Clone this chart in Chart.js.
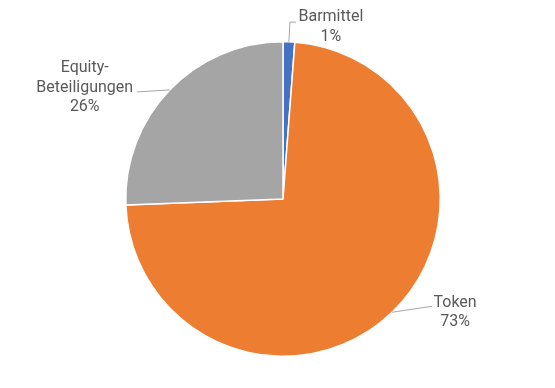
<!DOCTYPE html>
<html>
<head>
<meta charset="utf-8">
<script src="https://cdn.jsdelivr.net/npm/chart.js@4/dist/chart.umd.min.js"></script>
<style>
  html, body { margin: 0; padding: 0; background: #fff; }
  #wrap { width: 555px; height: 388px; }
</style>
</head>
<body>
<div id="wrap"><canvas id="chart"></canvas></div>
<script>
const categories = ['Barmittel', 'Token', 'Equity-Beteiligungen'];
const labelLines = [['Barmittel'], ['Token'], ['Equity-', 'Beteiligungen']];
const shares = [1.2, 73.2, 25.6];
const percentLabels = ['1%', '73%', '26%'];
const colors = ['#4472C4', '#ED7D31', '#A5A5A5'];

// where each label sits relative to the slice edge (text centre), and the leader end
const labelPlace = [
  { dx: 42, dy: -15, elbow: true },
  { dx: 63, dy: 0, lineDx: 40, lineDy: -6 },
  { dx: -85, dy: -2, lineDx: -33, lineDy: 2 }
];

const outsideLabels = {
  id: 'outsideLabels',
  afterDatasetsDraw(chart) {
    const ctx = chart.ctx;
    const arcs = chart.getDatasetMeta(0).data;
    ctx.save();
    ctx.font = '16px Roboto';
    ctx.textAlign = 'center';
    ctx.textBaseline = 'middle';
    arcs.forEach((arc, i) => {
      const mid = (arc.startAngle + arc.endAngle) / 2;
      const ex = arc.x + Math.cos(mid) * arc.outerRadius;
      const ey = arc.y + Math.sin(mid) * arc.outerRadius;
      const p = labelPlace[i];
      const lines = labelLines[i].concat([percentLabels[i]]);
      const lh = 19.5;
      const cx = ex + p.dx, cy = ey + p.dy;
      const top = cy - (lines.length - 1) * lh / 2;

      ctx.strokeStyle = '#A6A6A6';
      ctx.lineWidth = 1;
      ctx.beginPath();
      ctx.moveTo(ex, ey);
      if (p.elbow) {
        ctx.lineTo(ex + 1, top + 5);
        ctx.lineTo(ex + 7, top + 5);
      } else {
        ctx.lineTo(ex + p.lineDx, ey + p.lineDy);
      }
      ctx.stroke();

      ctx.fillStyle = '#595959';
      lines.forEach((t, k) => ctx.fillText(t, cx, top + k * lh));
    });
    ctx.restore();
  }
};

new Chart(document.getElementById('chart'), {
  type: 'pie',
  data: {
    labels: categories,
    datasets: [{
      data: shares,
      backgroundColor: colors,
      borderColor: '#ffffff',
      borderWidth: 1.5
    }]
  },
  options: {
    responsive: true,
    maintainAspectRatio: false,
    animation: false,
    layout: { padding: { top: 41, bottom: 31, left: 11, right: 0 } },
    plugins: {
      legend: { display: false },
      tooltip: { enabled: false }
    }
  },
  plugins: [outsideLabels]
});
</script>
</body>
</html>
